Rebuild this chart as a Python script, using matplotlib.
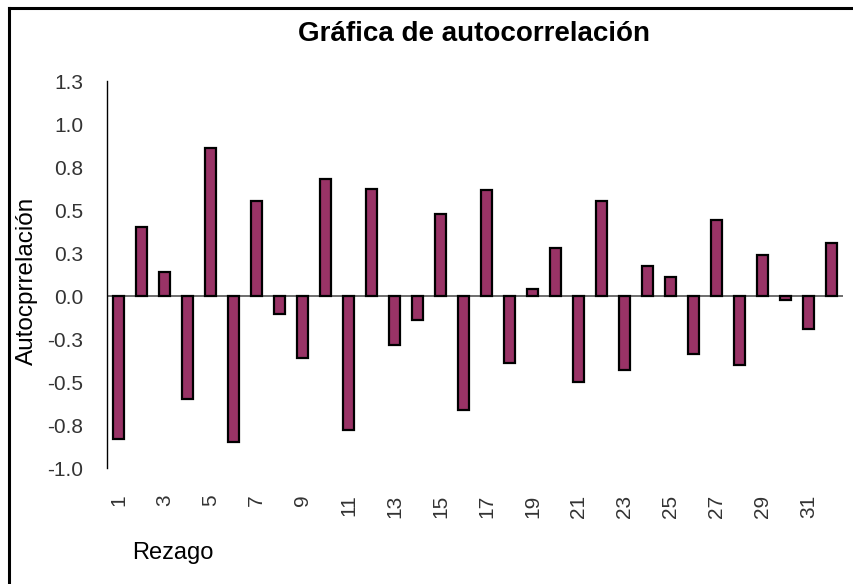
import matplotlib.pyplot as plt
from matplotlib.lines import Line2D

plt.rcParams["font.family"] = ["Liberation Sans", "DejaVu Sans"]

# Datos de autocorrelación por rezago
rezagos = list(range(1, 33))
autocorr = [-0.83, 0.40, 0.14, -0.60, 0.86, -0.85, 0.55, -0.105,
            -0.36, 0.68, -0.78, 0.62, -0.285, -0.14, 0.475, -0.66,
            0.615, -0.39, 0.042, 0.28, -0.50, 0.55, -0.43, 0.176,
            0.11, -0.34, 0.44, -0.40, 0.237, -0.023, -0.19, 0.306]
y_ticks = [-1.0, -0.75, -0.5, -0.25, 0.0, 0.25, 0.5, 0.75, 1.0, 1.25]
y_labels = ["-1.0", "-0.8", "-0.5", "-0.3", "0.0", "0.3", "0.5", "0.8", "1.0", "1.3"]
x_labels = [str(r) if r % 2 == 1 else "" for r in rezagos]

fig = plt.figure(figsize=(8.54, 5.84), dpi=100)
ax = fig.add_axes([0.1253, 0.1986, 0.8618, 0.6627])

ax.bar(rezagos, autocorr, width=0.45, color="#993366", edgecolor="black", linewidth=1.6, zorder=3)
ax.axhline(0, color="#555555", linewidth=1.2, zorder=2)

ax.set_xlim(0.5, 32.5)
ax.set_ylim(-1.0, 1.25)
ax.set_yticks(y_ticks)
ax.set_yticklabels(y_labels)
ax.set_xticks(rezagos)
ax.set_xticklabels(x_labels, rotation=90, va="top")
ax.tick_params(axis="y", length=0, pad=17, labelsize=15, labelcolor="#333333")
ax.tick_params(axis="x", length=0, pad=19, labelsize=15, labelcolor="#333333")

for s in ["top", "right", "bottom"]:
    ax.spines[s].set_visible(False)
ax.spines["left"].set_linewidth(1.0)
ax.spines["left"].set_color("black")

# Títulos y etiquetas
fig.text(0.555, 0.942, "Gráfica de autocorrelación", ha="center", va="center",
         fontsize=20, fontweight="bold")
fig.text(0.032, 0.519, "Autocprrelación", ha="center", va="center",
         rotation=90, fontsize=17.5)
fig.text(0.155, 0.053, "Rezago", ha="left", va="center", fontsize=17)

# Marco exterior (solo borde izquierdo y superior visibles)
fig.add_artist(Line2D([0.0105, 0.0105], [0.0, 0.986], transform=fig.transFigure,
                      color="black", linewidth=2.2))
fig.add_artist(Line2D([0.0105, 1.0], [0.986, 0.986], transform=fig.transFigure,
                      color="black", linewidth=2.2))

plt.savefig("out.png", dpi=100)
